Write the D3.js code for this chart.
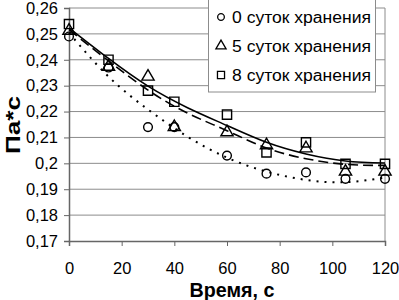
<!DOCTYPE html>
<html>
<head>
<meta charset="utf-8">
<script src="https://cdn.jsdelivr.net/npm/d3@7"></script>
<style>
  body { margin: 0; background: #fff; }
  text { font-family: Arial, "Liberation Sans", sans-serif; }
</style>
</head>
<body>
<div id="chart"></div>
<script>
// Time points (s)
var times = [0, 15, 30, 40, 60, 75, 90, 105, 120];

// Measured viscosity, Pa*s
var day0 = [0.249, 0.237, 0.214, 0.214, 0.203, 0.196, 0.1965, 0.194, 0.194];
var day5 = [0.2512, 0.2373, 0.2335, 0.214, 0.212, 0.207, 0.2058, 0.1968, 0.1968];
var day8 = [0.2538, 0.240, 0.2281, 0.2238, 0.2188, 0.2042, 0.2081, 0.1998, 0.1998];

// Trend lines
var trendX = [0, 15, 30, 45, 60, 75, 90, 105, 120];
var trend0 = [0.2504, 0.2335, 0.2208, 0.2103, 0.2022, 0.1968, 0.1936, 0.1927, 0.1945];
var trend5 = [0.2516, 0.2396, 0.2283, 0.2194, 0.2126, 0.2059, 0.2018, 0.1996, 0.1992];
var trend8 = [0.2523, 0.2405, 0.2298, 0.2215, 0.2146, 0.2081, 0.2036, 0.2009, 0.2001];

var legendLabels = ["0 суток хранения", "5 суток хранения", "8 суток хранения"];
var xTicks = [0, 20, 40, 60, 80, 100, 120];
var yTicks = [0.17, 0.18, 0.19, 0.2, 0.21, 0.22, 0.23, 0.24, 0.25, 0.26];

var width = 399, height = 300;

var svg = d3.select("#chart").append("svg")
    .attr("width", width)
    .attr("height", height);

var x = d3.scaleLinear().domain([0, 120]).range([69, 385]);
var y = d3.scaleLinear().domain([0.17, 0.26]).range([241, 8]);

var fmt = function(d) { return String(+d.toFixed(2)).replace(".", ","); };

// gridlines
svg.append("g")
    .selectAll("line")
    .data(yTicks.slice(1))
    .enter().append("line")
    .attr("x1", x(0)).attr("x2", x(120))
    .attr("y1", function(d) { return y(d); })
    .attr("y2", function(d) { return y(d); })
    .style("stroke", "#8c8c8c")
    .style("stroke-width", 1);

// right border
svg.append("line")
    .attr("x1", x(120)).attr("x2", x(120))
    .attr("y1", y(0.26)).attr("y2", y(0.17))
    .style("stroke", "#8c8c8c");

// axes
var yAxis = svg.append("g")
    .attr("transform", "translate(" + x(0) + ",0)")
    .call(d3.axisLeft(y).tickValues(yTicks).tickFormat(fmt).tickSize(5).tickPadding(6));
var xAxis = svg.append("g")
    .attr("transform", "translate(0," + y(0.17) + ")")
    .call(d3.axisBottom(x).tickValues(xTicks).tickSize(5).tickPadding(16));

[yAxis, xAxis].forEach(function(a) {
    a.select(".domain").style("stroke", "#666").style("stroke-width", 1.5);
    a.selectAll(".tick line").style("stroke", "#666");
    a.selectAll(".tick text")
        .style("font-family", "Arial, 'Liberation Sans', sans-serif")
        .style("font-size", "16.5px")
        .style("fill", "#000");
});

// axis titles
svg.append("text")
    .attr("x", 232).attr("y", 297)
    .attr("text-anchor", "middle")
    .attr("textLength", 85)
    .attr("lengthAdjust", "spacingAndGlyphs")
    .style("font-size", "20px").style("font-weight", "bold")
    .text("Время, с");

svg.append("text")
    .attr("transform", "translate(20,125) rotate(-90)")
    .attr("text-anchor", "middle")
    .attr("textLength", 58)
    .attr("lengthAdjust", "spacingAndGlyphs")
    .style("font-size", "21px").style("font-weight", "bold")
    .text("Па*с");

// trend lines
var line = d3.line()
    .x(function(d) { return x(d[0]); })
    .y(function(d) { return y(d[1]); })
    .curve(d3.curveNatural);

var trends = [
    {vals: trend0, dash: "2,6", w: 2},
    {vals: trend5, dash: "10,5", w: 1.6},
    {vals: trend8, dash: null, w: 1.6}
];
trends.forEach(function(t) {
    svg.append("path")
        .datum(d3.zip(trendX, t.vals))
        .attr("d", line)
        .style("fill", "none")
        .style("stroke", "#000")
        .style("stroke-width", t.w)
        .style("stroke-dasharray", t.dash);
});

// markers
var series = [
    {vals: day0, sym: d3.symbol().type(d3.symbolCircle).size(60), small: d3.symbol().type(d3.symbolCircle).size(35)},
    {vals: day5, sym: d3.symbol().type(d3.symbolTriangle).size(65), small: d3.symbol().type(d3.symbolTriangle).size(45)},
    {vals: day8, sym: d3.symbol().type(d3.symbolSquare).size(85), small: d3.symbol().type(d3.symbolSquare).size(50)}
];

series.forEach(function(s) {
    svg.append("g")
        .selectAll("path")
        .data(d3.zip(times, s.vals))
        .enter().append("path")
        .attr("d", s.sym)
        .attr("transform", function(d) { return "translate(" + x(d[0]) + "," + y(d[1]) + ")"; })
        .style("fill", "none")
        .style("stroke", "#000")
        .style("stroke-width", 1.4);
});

// legend
var lg = svg.append("g");
lg.append("rect")
    .attr("x", 208.5).attr("y", -1)
    .attr("width", 167).attr("height", 93)
    .style("fill", "#fff")
    .style("stroke", "#8c8c8c");

var items = lg.selectAll("g.item")
    .data(legendLabels)
    .enter().append("g")
    .attr("class", "item")
    .attr("transform", function(d, i) { return "translate(0," + [17, 46, 75][i] + ")"; });

items.append("path")
    .attr("d", function(d, i) { return series[i].small(); })
    .attr("transform", "translate(221,0)")
    .style("fill", "none")
    .style("stroke", "#000")
    .style("stroke-width", 1.3);

items.append("text")
    .attr("x", 232).attr("y", 6)
    .attr("textLength", 139)
    .attr("lengthAdjust", "spacingAndGlyphs")
    .style("font-size", "16px")
    .text(function(d) { return d; });
</script>
</body>
</html>
